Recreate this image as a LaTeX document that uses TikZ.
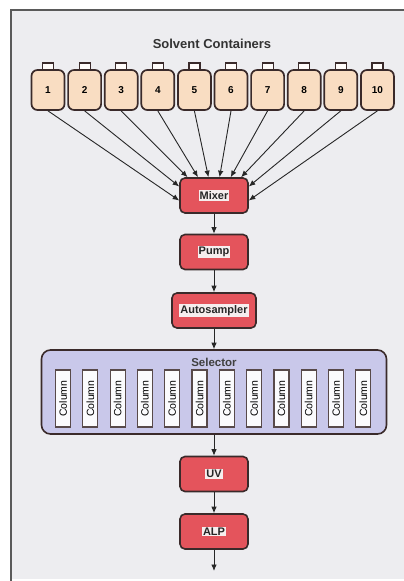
\documentclass[tikz,border=0pt]{standalone}
\usepackage{fontspec}
\setmainfont{Liberation Sans}
\usetikzlibrary{arrows.meta,calc}
\definecolor{bgc}{HTML}{EDEDF0}
\definecolor{framec}{HTML}{5A5A5A}
\definecolor{boxred}{HTML}{E4545C}
\definecolor{edgec}{HTML}{3A2A2A}
\definecolor{peach}{HTML}{F9DDC2}
\definecolor{lav}{HTML}{C9C8EA}
\definecolor{lblc}{HTML}{F6EEEE}
\setlength{\fboxsep}{1pt}
\newcommand{\boxlbl}[1]{\colorbox{lblc}{#1}}
\begin{document}
\begin{tikzpicture}[x=1pt,y=-1pt,
  redbox/.style={draw=edgec, line width=1.6pt, fill=boxred, rounded corners=5pt,
    minimum width=68pt, minimum height=35pt, inner sep=0pt,
    font=\fontsize{11}{12}\selectfont\bfseries, text=black!85},
  bottle/.style={draw=edgec, line width=1.7pt, fill=peach, rounded corners=6pt,
    minimum width=33pt, minimum height=40pt, inner sep=0pt,
    font=\fontsize{10}{11}\selectfont\bfseries},
  capbox/.style={draw=edgec, line width=1.2pt, fill=white!92!peach,
    minimum width=11pt, minimum height=8pt, inner sep=0pt},
  colbox/.style={draw=edgec!85, line width=1.2pt, fill=white!92!lav,
    minimum width=57pt, minimum height=15pt, inner sep=0pt, rotate=90,
    font=\fontsize{10.5}{11}\selectfont},
  flow/.style={draw=black!85, line width=0.9pt, -{Latex[length=6.5pt,width=5.5pt]}},
]
\useasboundingbox (0,0) rectangle (404,581);
\fill[white] (0,0) rectangle (404,581);
\fill[bgc] (11,10) rectangle (404,579);
\draw[framec, line width=1.8pt] (11,581) -- (11,10) -- (404,10);

\node[font=\fontsize{13}{15}\selectfont\bfseries, text=black!80] (title) at (212,44) {Solvent Containers};

\foreach \i in {1,...,10} {
  \pgfmathsetmacro\bx{48+(\i-1)*36.6}
  \node[capbox] (c\i) at (\bx,67) {};
  \node[bottle] (b\i) at (\bx,90) {\i};
}

\node[redbox] (mix) at (214,195.5) {\boxlbl{Mixer}};
\node[redbox] (pump) at (214,252) {\boxlbl{Pump}};
\node[redbox, minimum width=84pt] (auto) at (214,310.5) {\boxlbl{Autosampler}};

\node[draw=edgec, line width=1.6pt, fill=lav, rounded corners=9pt,
  minimum width=345pt, minimum height=84pt] (sel) at (214,392) {};
\node[font=\fontsize{11.5}{12}\selectfont\bfseries, text=black!75] (sellbl) at (214,362) {Selector};
\foreach \j in {1,...,12} {
  \pgfmathsetmacro\cx{63+(\j-1)*27.3}
  \node[colbox] (col\j) at (\cx,398.5) {Column};
}

\node[redbox] (uv) at (214,474) {\boxlbl{UV}};
\node[redbox] (alp) at (214,531.5) {\boxlbl{ALP}};
\coordinate (out) at (214,571);

% arrows from containers to mixer
\coordinate (e1) at ($(mix.west)+(0,5)$);
\coordinate (e2) at ($(mix.west)+(0,-9)$);
\coordinate (e3) at ($(mix.north west)!0.12!(mix.north east)$);
\coordinate (e4) at ($(mix.north west)!0.27!(mix.north east)$);
\coordinate (e5) at ($(mix.north west)!0.42!(mix.north east)$);
\coordinate (e6) at ($(mix.north west)!0.58!(mix.north east)$);
\coordinate (e7) at ($(mix.north west)!0.74!(mix.north east)$);
\coordinate (e8) at ($(mix.north west)!0.89!(mix.north east)$);
\coordinate (e9) at ($(mix.east)+(0,-9)$);
\coordinate (e10) at ($(mix.east)+(0,5)$);
\foreach \i in {1,...,10} {
  \draw[flow] (b\i.south) -- (e\i);
}

\draw[flow] (mix) -- (pump);
\draw[flow] (pump) -- (auto);
\draw[flow] (auto) -- (sel.north);
\draw[flow] (sel.south) -- (uv);
\draw[flow] (uv) -- (alp);
\draw[flow] (alp) -- (out);
\end{tikzpicture}
\end{document}
